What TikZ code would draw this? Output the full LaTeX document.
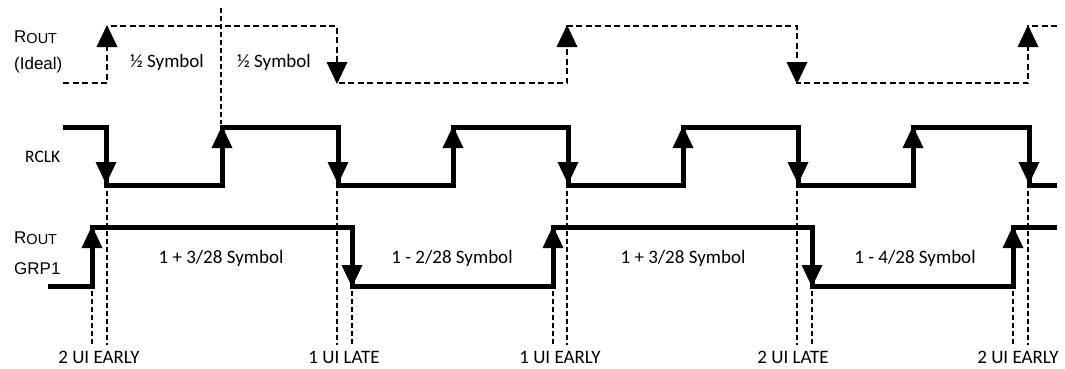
\documentclass[tikz,border=0pt]{standalone}
\usepackage{fontspec}
\setmainfont{Carlito}
\newfontfamily\arialfont{Liberation Sans}
\begin{document}
\begin{tikzpicture}[x=1pt,y=-1pt,
  ideal/.style={line width=2.8pt,dash pattern=on 6pt off 3.5pt},
  wave/.style={line width=5pt},
  guide/.style={line width=1.3pt,dash pattern=on 5pt off 3pt},
  lbl/.style={inner sep=0pt,anchor=base,font=\fontsize{19}{20}\selectfont},
  sig/.style={inner sep=0pt,anchor=base west,font=\arialfont\fontsize{17}{18}\selectfont},
  clk/.style={inner sep=0pt,anchor=base west,font=\fontsize{17.5}{18}\selectfont}]
\useasboundingbox (0,0) rectangle (1065,368);
\newcommand{\uptip}[2]{\fill (#1,#2) -- (#1-10.5,#2+22) -- (#1+10.5,#2+22) -- cycle;}
\newcommand{\dntip}[2]{\fill (#1,#2) -- (#1-10.5,#2-22) -- (#1+10.5,#2-22) -- cycle;}
% ideal waveform
\draw[ideal] (63,83) -| (107,26) -| (337,83) -| (567,26) -| (797,83) -| (1028,26) -- (1057,26);
\uptip{107}{25}\dntip{337}{84}\uptip{567}{25}\dntip{797}{84}\uptip{1028}{25}
% RCLK
\draw[wave] (63,127) -| (106,185) -| (222,127) -| (338,185) -| (453,127) -| (568,185) -| (683,127) -| (798,185) -| (913,127) -| (1029,185) -- (1057,185);
\dntip{106}{184}\uptip{222}{126}\dntip{338}{184}\uptip{453}{126}\dntip{568}{184}\uptip{683}{126}\dntip{798}{184}\uptip{913}{126}\dntip{1029}{184}
% ROUT GRP1
\draw[wave] (48,286) -| (92,227) -| (352,286) -| (553,227) -| (812,286) -| (1013,227) -- (1057,227);
\uptip{92}{226}\dntip{352}{287}\uptip{553}{226}\dntip{812}{287}\uptip{1013}{226}
% guide lines
\draw[guide] (221,8) -- (221,124);
\foreach \x in {107,337,567,797,1028} \draw[guide] (\x,191) -- (\x,345);
\foreach \x in {92,352,553,812,1013} \draw[guide] (\x,291) -- (\x,345);
% left labels
\node[sig] (r1) at (14,42) {R{\fontsize{14.5}{15}\selectfont\raisebox{-1.5pt}{OUT}}};
\node[sig] (r1b) at (14,69) {(Ideal)};
\node[clk] (rclk) at (25,162) {RCLK};
\node[sig] (r2) at (14,243) {R{\fontsize{14.5}{15}\selectfont\raisebox{-1.5pt}{OUT}}};
\node[sig] (r2b) at (14,274) {GRP1};
% symbol labels
\node[lbl] (h1) at (167,67) {½ Symbol};
\node[lbl] (h2) at (274,67) {½ Symbol};
\node[lbl] (s1) at (221,263) {1 + 3/28 Symbol};
\node[lbl] (s2) at (452,263) {1 - 2/28 Symbol};
\node[lbl] (s3) at (683,263) {1 + 3/28 Symbol};
\node[lbl] (s4) at (915,263) {1 - 4/28 Symbol};
% bottom labels
\node[lbl] (b1) at (99,363) {2 UI EARLY};
\node[lbl] (b2) at (344,363) {1 UI LATE};
\node[lbl] (b3) at (560,363) {1 UI EARLY};
\node[lbl] (b4) at (793,363) {2 UI LATE};
\node[lbl] (b5) at (1018,363) {2 UI EARLY};
\end{tikzpicture}
\end{document}
